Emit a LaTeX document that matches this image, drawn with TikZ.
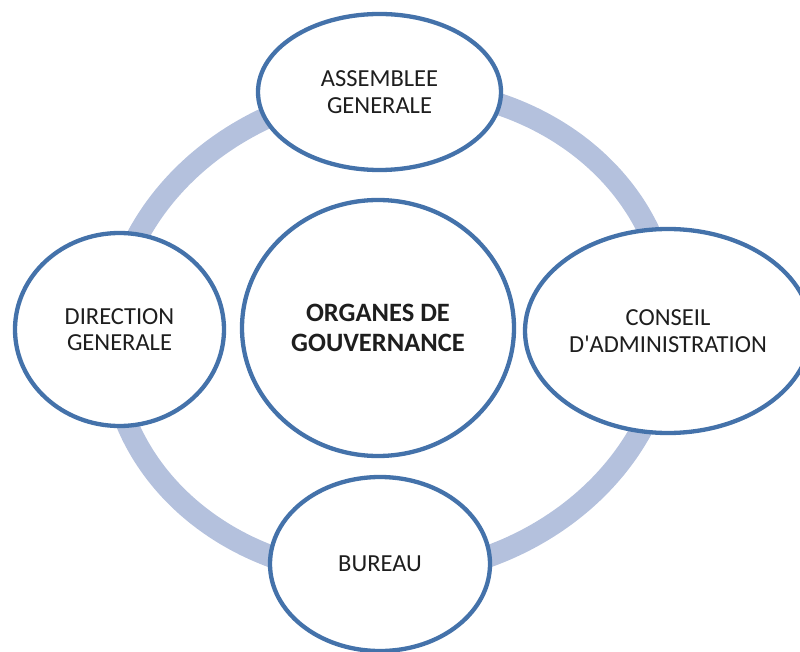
\documentclass[tikz,border=0pt]{standalone}
\usepackage{fontspec}
\setmainfont{Carlito}[Ligatures=TeXOff]
\usetikzlibrary{shapes.geometric}
\definecolor{ringblue}{RGB}{180,193,221}
\definecolor{edgeblue}{RGB}{68,114,170}
\definecolor{txt}{RGB}{30,30,30}
\begin{document}
\begin{tikzpicture}[x=1pt,y=-1pt,
  orb/.style={ellipse, draw=edgeblue, line width=4.3pt, fill=white, inner sep=0pt,
    align=center, text=txt, font=\fontsize{24.5}{26.5}\selectfont},
  ringline/.style={draw=ringblue, line width=22pt}
]
\useasboundingbox (0,0) rectangle (800,652);
\clip (0,0) rectangle (800,652);
% ring
\draw[ringline] plot[smooth cycle, domain=0:357.5, samples=144, variable=\t]
  ({390+280*cos(\t)*(1+0.02*cos(2*(\t-48)))}, {332-243*sin(\t)*(1+0.02*cos(2*(\t-48)))});
% ellipses
\node[orb, minimum width=243pt, minimum height=156pt] (ag) at (379.5,92) {ASSEMBLEE\\GENERALE};
\node[orb, minimum width=209pt, minimum height=193pt] (dg) at (119.5,329.5) {DIRECTION\\GENERALE};
\node[orb, minimum width=286pt, minimum height=204pt] (ca) at (668,331) {CONSEIL\\D'ADMINISTRATION};
\node[orb, minimum width=220pt, minimum height=174pt] (bu) at (380,564) {BUREAU};
\node[orb, minimum width=272pt, minimum height=256pt, font=\bfseries\fontsize{26.5}{30}\selectfont] (og) at (378,328) {ORGANES DE\\GOUVERNANCE};
\end{tikzpicture}
\end{document}
